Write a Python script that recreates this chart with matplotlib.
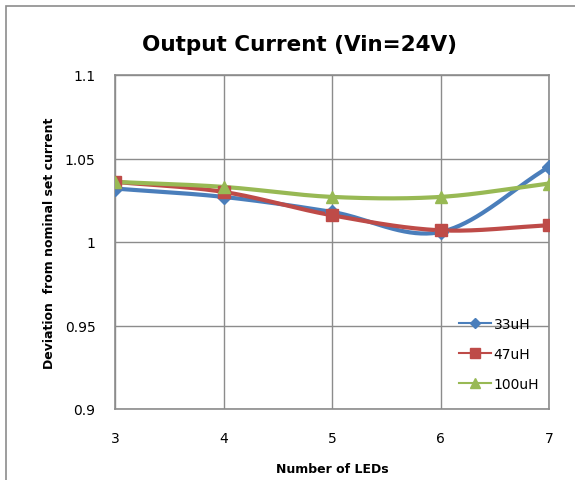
import matplotlib.pyplot as plt
import numpy as np
from matplotlib.patches import Rectangle

leds = [3, 4, 5, 6, 7]
cur_33uh = [1.032, 1.027, 1.018, 1.006, 1.045]
cur_47uh = [1.036, 1.030, 1.016, 1.007, 1.010]
cur_100uh = [1.036, 1.033, 1.027, 1.027, 1.035]
labels = ['33uH', '47uH', '100uH']
colors = ['#4a7ebb', '#be4b48', '#98b954']
markers = ['D', 's', '^']
msizes = [7, 8.5, 9]


def smooth(x, y, n=40):
    # Catmull-Rom, close to Excel's smoothed line
    x = np.asarray(x, float)
    y = np.asarray(y, float)
    px = np.concatenate([[2 * x[0] - x[1]], x, [2 * x[-1] - x[-2]]])
    py = np.concatenate([[2 * y[0] - y[1]], y, [2 * y[-1] - y[-2]]])
    xs, ys = [], []
    t = np.linspace(0, 1, n)
    for i in range(1, len(px) - 2):
        for p, out in ((px, xs), (py, ys)):
            p0, p1, p2, p3 = p[i - 1], p[i], p[i + 1], p[i + 2]
            b1 = p1 + (p2 - p0) / 6
            b2 = p2 - (p3 - p1) / 6
            out.extend((1 - t) ** 3 * p1 + 3 * (1 - t) ** 2 * t * b1
                       + 3 * (1 - t) * t ** 2 * b2 + t ** 3 * p2)
    return np.array(xs), np.array(ys)


fig = plt.figure(figsize=(5.75, 4.81), dpi=100)
fig.patches.append(Rectangle((6 / 575, -0.1), 1.2, 1 - 7 / 481 + 0.1,
                             transform=fig.transFigure, fill=False,
                             edgecolor='#8c8c8c', linewidth=1.2))

ax = fig.add_axes([115 / 575, 1 - 410 / 481, (549 - 115) / 575, (410 - 76) / 481])

for series, lab, c, m, ms in zip([cur_33uh, cur_47uh, cur_100uh], labels, colors, markers, msizes):
    sx, sy = smooth(leds, series)
    ax.plot(sx, sy, color=c, linewidth=3, zorder=3)
    ax.plot(leds, series, linestyle='none', marker=m, markersize=ms, color=c, zorder=4)
    ax.plot([], [], color=c, linewidth=1.5, marker=m, markersize=ms * 0.8, label=lab)

ax.set_xlim(3, 7)
ax.set_ylim(0.9, 1.1)
ax.set_xticks(leds)
ax.set_yticks([0.9, 0.95, 1.0, 1.05, 1.1])
ax.set_yticklabels(['0.9', '0.95', '1', '1.05', '1.1'])
ax.tick_params(length=0, labelsize=10, pad=14)
ax.tick_params(axis='x', pad=16)
ax.grid(True, color='#8c8c8c', linewidth=1)
for s in ax.spines.values():
    s.set_color('#8c8c8c')
    s.set_linewidth(1.2)

ax.set_xlabel('Number of LEDs', fontsize=9, fontweight='bold', labelpad=12)
ax.set_ylabel('Deviation  from nominal set current', fontsize=9, fontweight='bold', labelpad=6)
fig.text(300 / 575, 1 - 45 / 481, 'Output Current (Vin=24V)', fontsize=15.5,
         fontweight='bold', ha='center', va='center')

ax.legend(loc='lower right', frameon=False, fontsize=10, handlelength=2.3,
          labelspacing=1.15, handletextpad=0.2, borderaxespad=0.3,
          bbox_to_anchor=(1.0, 0.025))

fig.savefig('out.png', dpi=100)
